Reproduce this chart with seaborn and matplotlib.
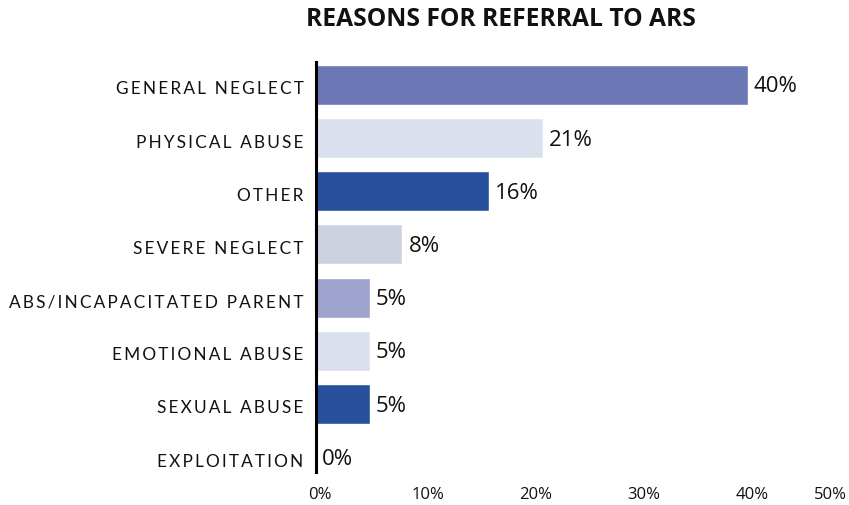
import matplotlib
matplotlib.use("Agg")
import matplotlib.pyplot as plt
import matplotlib.transforms as mtransforms
import seaborn as sns
import pandas as pd

categories = ["GENERAL NEGLECT", "PHYSICAL ABUSE", "OTHER", "SEVERE NEGLECT",
              "ABS/INCAPACITATED PARENT", "EMOTIONAL ABUSE", "SEXUAL ABUSE",
              "EXPLOITATION"]
percent = [40, 21, 16, 8, 5, 5, 5, 0]
bar_colors = ["#6c78b5", "#dbe0ee", "#26509b", "#cdd1e0",
              "#9da3cd", "#dbe0ee", "#26509b", "#dbe0ee"]
tick_values = [0, 10, 20, 30, 40, 50]
tick_labels = ["0%", "10%", "20%", "30%", "40%", "50%"]
title = "REASONS FOR REFERRAL TO ARS"

sns.set_theme(style="white")
plt.rcParams["font.family"] = ["Open Sans", "DejaVu Sans"]

df = pd.DataFrame({"category": categories, "percent": percent})

W, H = 849, 505
fig = plt.figure(figsize=(W / 100, H / 100), dpi=100)
left, right, top, bottom = 316, 856, 62, 472
ax = fig.add_axes([left / W, 1 - bottom / H, (right - left) / W, (bottom - top) / H])

sns.barplot(data=df, x="percent", y="category", hue="category",
            palette=bar_colors, orient="h", width=0.75, legend=False,
            saturation=1, ax=ax)

ax.set_xlim(0, 50)
ax.set_ylim(7.28, -0.43)
ax.set_xlabel("")
ax.set_ylabel("")

for s in ["top", "right", "bottom"]:
    ax.spines[s].set_visible(False)
ax.spines["left"].set_color("black")
ax.spines["left"].set_linewidth(2.2)
ax.spines["left"].set_zorder(5)

def shift(label, dx_px, dy_px):
    label.set_transform(label.get_transform() +
                        mtransforms.ScaledTranslation(dx_px / 100, dy_px / 100, fig.dpi_scale_trans))

# letter-spaced category labels
spaced = ["\u2009".join(list(c)) for c in categories]
ax.set_yticks(range(len(categories)))
ax.set_yticklabels(spaced, fontsize=12.4, family=["Lato", "DejaVu Sans"], color="#111111")
ax.tick_params(axis="y", length=0, pad=9)
for lab in ax.get_yticklabels():
    shift(lab, 0, -3)

ax.set_xticks(tick_values)
ax.set_xticklabels(tick_labels, fontsize=12, color="#111111")
ax.tick_params(axis="x", length=0, pad=11)
xlabs = ax.get_xticklabels()
for lab in xlabs[:-1]:
    shift(lab, 4, 0)
shift(xlabs[-1], -26, 0)

offset = mtransforms.ScaledTranslation(6 / 100, 0, fig.dpi_scale_trans)
for i, v in enumerate(percent):
    ax.text(v, i + 0.04, f"{v}%", va="center", ha="left", fontsize=16,
            color="#111111", transform=ax.transData + offset)

fig.text(501 / W, 1 - 19 / H, title, ha="center", va="center",
         fontsize=17.7, fontweight="bold", color="#111111")

fig.savefig("out.png", dpi=100)
